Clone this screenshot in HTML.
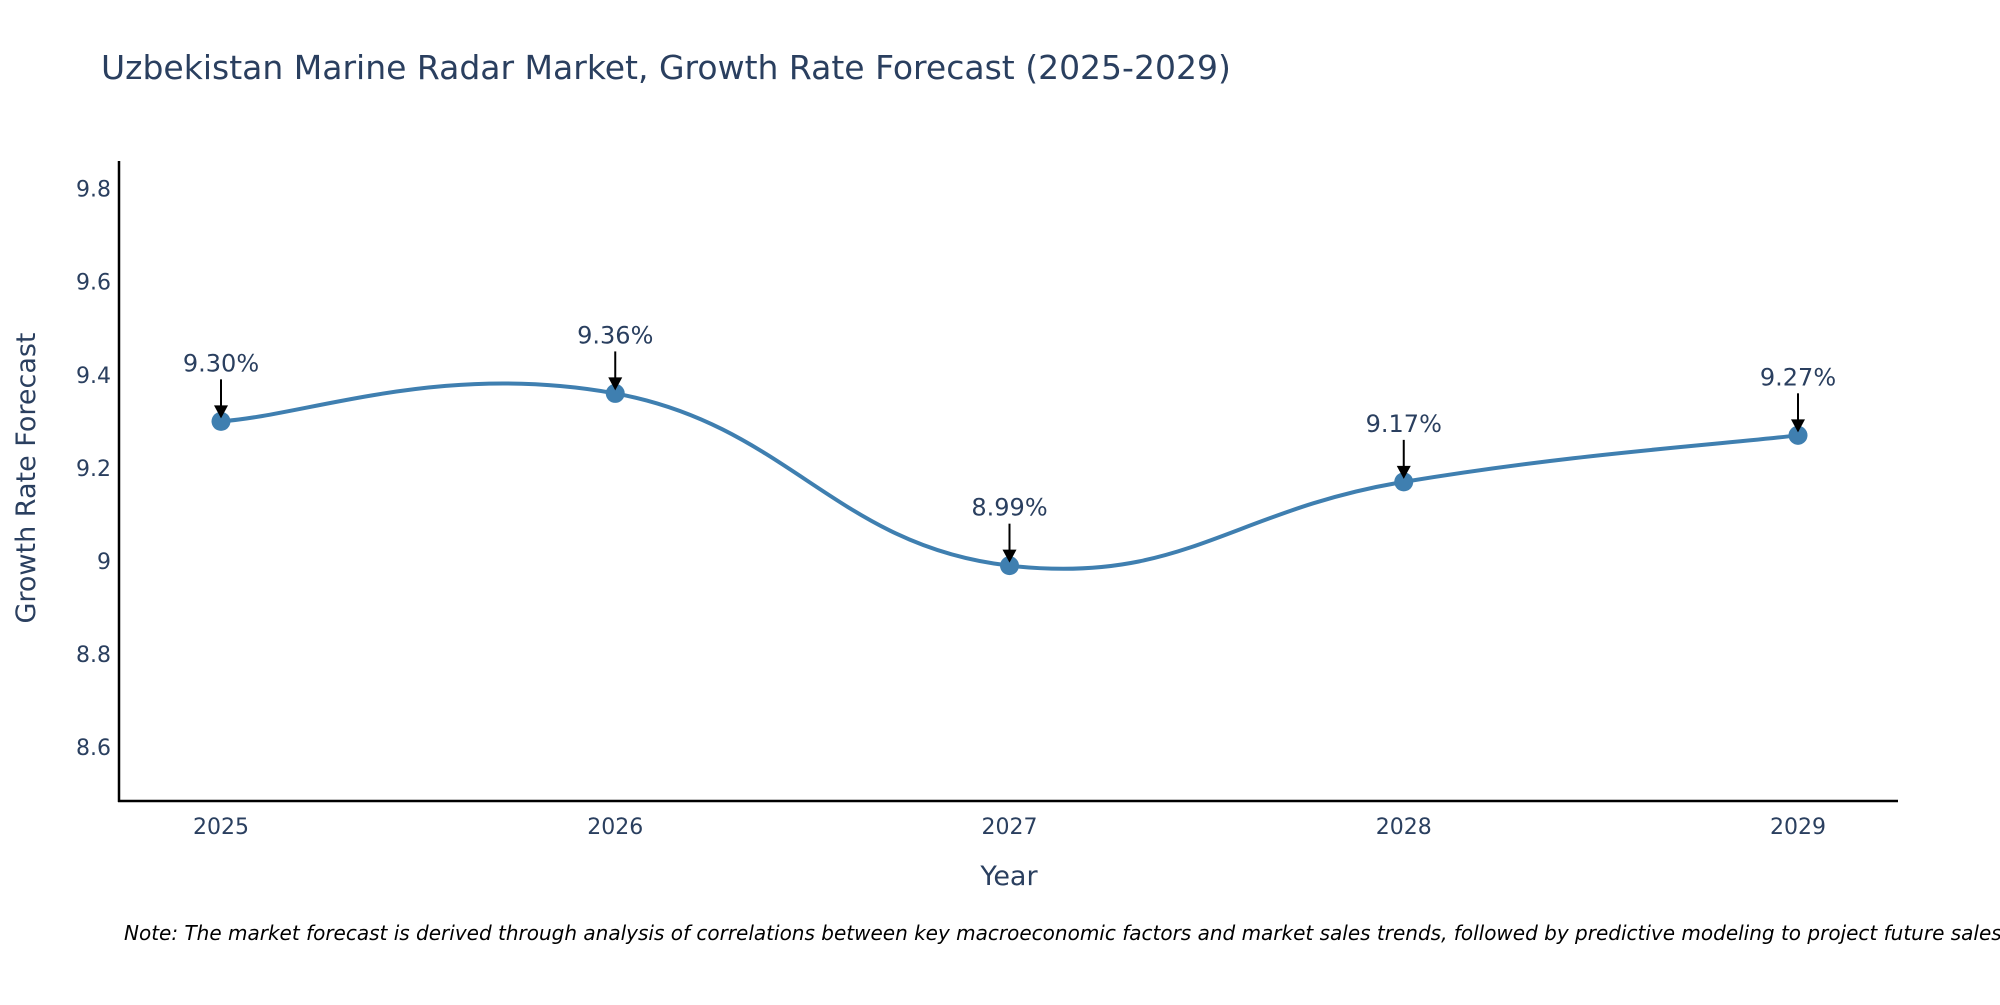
<!DOCTYPE html>
<html><head><meta charset="utf-8"><style>
body{margin:0;background:#fff;}
svg text{font-family:"DejaVu Sans","Liberation Sans",sans-serif;}
</style></head><body>
<svg id="chart" width="2000" height="1000" xmlns="http://www.w3.org/2000/svg">
<rect width="2000" height="1000" fill="#fff"/>
<text x="101" y="79" font-size="33" fill="#2a3f5f">Uzbekistan Marine Radar Market, Growth Rate Forecast (2025-2029)</text>
<g id="yticks"></g>
<g id="xticks"></g>
<line x1="119" y1="161" x2="119" y2="802" stroke="#000" stroke-width="2.5"/>
<line x1="118" y1="801" x2="1898" y2="801" stroke="#000" stroke-width="2.5"/>
<text x="1009" y="885" font-size="27" fill="#2a3f5f" text-anchor="middle">Year</text>
<text transform="translate(35,478) rotate(-90)" font-size="27" fill="#2a3f5f" text-anchor="middle">Growth Rate Forecast</text>
<path id="line" fill="none" stroke="#3f7fb0" stroke-width="4"/>
<g id="marks"></g>
<text x="124" y="940" font-size="20" font-style="italic" fill="#000">Note: The market forecast is derived through analysis of correlations between key macroeconomic factors and market sales trends, followed by predictive modeling to project future sales.</text>
</svg>
<script>
const categories = ["2025","2026","2027","2028","2029"];
const values = [9.30, 9.36, 8.99, 9.17, 9.27];
const valueLabels = ["9.30%","9.36%","8.99%","9.17%","9.27%"];
const yTicks = [8.6, 8.8, 9, 9.2, 9.4, 9.6, 9.8];
const yTickLabels = ["8.6","8.8","9","9.2","9.4","9.6","9.8"];
const NS="http://www.w3.org/2000/svg";
const xS=i=>221+i*(1798-221)/(categories.length-1);
const yS=v=>561-(v-9)*(93.1/0.2);
function mk(t,a,p){const e=document.createElementNS(NS,t);for(const k in a)e.setAttribute(k,a[k]);p.appendChild(e);return e;}
const yt=document.getElementById('yticks');
yTicks.forEach((v,i)=>{const t=mk('text',{x:111,y:yS(v)+8,'font-size':22,fill:'#2a3f5f','text-anchor':'end'},yt);

t.textContent=yTickLabels[i];});
const xt=document.getElementById('xticks');
categories.forEach((c,i)=>{const t=mk('text',{x:xS(i),y:834,'font-size':22,fill:'#2a3f5f','text-anchor':'middle'},xt);

t.textContent=c;});
const pts=values.map((v,i)=>[xS(i),yS(v)]);
let d=`M${pts[0][0]},${pts[0][1]}`;const s=0.22;
for(let i=0;i<pts.length-1;i++){const p0=pts[Math.max(0,i-1)],p1=pts[i],p2=pts[i+1],p3=pts[Math.min(pts.length-1,i+2)];
const c1=[p1[0]+(p2[0]-p0[0])*s,p1[1]+(p2[1]-p0[1])*s],c2=[p2[0]-(p3[0]-p1[0])*s,p2[1]-(p3[1]-p1[1])*s];
d+=` C${c1[0]},${c1[1]} ${c2[0]},${c2[1]} ${p2[0]},${p2[1]}`;}
document.getElementById('line').setAttribute('d',d);
const g=document.getElementById('marks');
pts.forEach((p,i)=>{
const c=mk('circle',{cx:p[0],cy:p[1],r:9.5,fill:'#3f7fb0'},g);


const l=mk('line',{x1:p[0],y1:p[1]-42,x2:p[0],y2:p[1]-14,stroke:'#000','stroke-width':2},g);


const a=mk('polygon',{points:`${p[0]-7},${p[1]-16} ${p[0]+7},${p[1]-16} ${p[0]},${p[1]-3}`,fill:'#000'},g);


const t=mk('text',{x:p[0],y:p[1]-50,'font-size':24,fill:'#2a3f5f','text-anchor':'middle'},g);

t.textContent=valueLabels[i];});
</script>
</body></html>
